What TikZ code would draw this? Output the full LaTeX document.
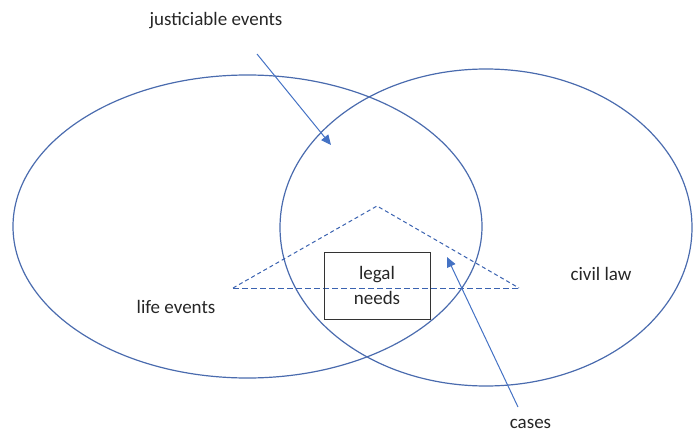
\documentclass[tikz,border=0pt]{standalone}
\usepackage{fontspec}
\setmainfont{Carlito}
\usetikzlibrary{arrows.meta}
\definecolor{ell}{HTML}{4A6BAE}
\definecolor{arr}{HTML}{4472C4}
\definecolor{dsh}{HTML}{3A62B0}
\tikzset{
  set/.style={draw=ell, line width=1.2pt},
  pointer/.style={draw=arr, line width=1pt, -{Triangle[width=9pt,length=10pt]}},
  dashline/.style={draw=dsh, line width=1pt, dash pattern=on 4pt off 3pt},
  lbl/.style={font=\fontsize{19}{25}\selectfont, inner sep=0pt, text=black!85},
  box/.style={draw=black!80, line width=1pt, minimum width=106pt, minimum height=67pt, inner sep=0pt}
}
\begin{document}
\begin{tikzpicture}[x=1pt,y=-1pt]
\useasboundingbox (0,0) rectangle (693,433);
% sets
\draw[set] (247.5,226.5) ellipse [x radius=234.5, y radius=151.5];
\draw[set] (486,227.5) ellipse [x radius=206, y radius=158.5];
% dashed triangle
\coordinate (tA) at (377,206);
\coordinate (tL) at (233,288);
\coordinate (tR) at (519,288);
\draw[dashline] (tL) -- (tA) -- (tR);
\draw[dashline, dash pattern=on 6pt off 3pt] (tL) -- (tR);
% box
\node[box, align=center, lbl, text width=100pt] (needs) at (377,285.5) {legal\\needs};
% labels
\node[lbl, anchor=base] (just) at (216,26) {justiciable events};
\node[lbl] (life) at (176,307) {life events};
\node[lbl] (civil) at (601,274) {civil law};
\node[lbl, anchor=base] (cases) at (530.5,428) {cases};
% arrows
\coordinate (a1s) at (257,54);
\coordinate (a1e) at (331,145);
\coordinate (a2s) at (518,407);
\coordinate (a2e) at (447,257);
\draw[pointer] (a1s) -- (a1e);
\draw[pointer] (a2s) -- (a2e);
\end{tikzpicture}
\end{document}
